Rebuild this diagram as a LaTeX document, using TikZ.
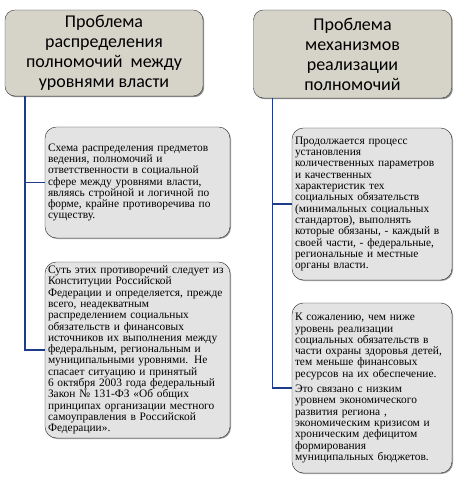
\documentclass[tikz,border=0pt]{standalone}
\usepackage{fontspec}
\setmainfont{Liberation Serif}
\newfontfamily\titulofont{Carlito}
\definecolor{esqNavy}{HTML}{1F3C88}
\definecolor{esqTaupe}{HTML}{D6D4C9}
\definecolor{esqGris}{HTML}{E3E3E3}
\definecolor{esqSombra}{HTML}{5A5A5A}
\usetikzlibrary{
	positioning,
	calc,
	shadows
}
\tikzset{
	titulo/.style={
		draw=black!80,
		rounded corners=3.5mm,
		fill=esqTaupe,
		align=center,
		inner sep=2pt,
		minimum width=198pt,
		minimum height=86pt,
		font=\titulofont\fontsize{18}{20}\selectfont,
		drop shadow={shadow xshift=1.2pt,shadow yshift=-1.2pt,fill=esqSombra,opacity=0.7}
	},
	texto/.style={
		draw=black!85,
		rounded corners=4mm,
		fill=esqGris,
		align=left,
		inner sep=3pt,
		font=\fontsize{11.4}{11.3}\selectfont,
		drop shadow={shadow xshift=1pt,shadow yshift=-1pt,fill=esqSombra,opacity=0.6}
	},
	enlace/.style={
		line width=1.6pt,
		esqNavy
	}
}
\begin{document}
\begin{tikzpicture}[x=1pt,y=-1pt]
	\useasboundingbox (0,0) rectangle (458,481);
	% encabezados
	\node[titulo] (tituloA) at (104,53) {Проблема\\распределения\\полномочий\ \ между\\уровнями власти};
	\node[titulo, minimum height=88pt] (tituloB) at (352.5,54) {Проблема\\механизмов\\реализации\\полномочий};
	% columna izquierda
	\node[texto, minimum width=185pt, minimum height=111pt, text width=179pt] (esquema) at (137.5,182.5)
		{Схема распределения предметов\\ведения, полномочий и\\ответственности в социальной\\сфере между уровнями власти,\\являясь стройной и логичной по\\форме, крайне противоречива по\\существу.};
	\node[texto, minimum width=185pt, minimum height=176pt, text width=179pt] (suti) at (137.5,350)
		{Суть этих противоречий следует из\\Конституции Российской\\Федерации и определяется, прежде\\всего, неадекватным\\распределением социальных\\обязательств и финансовых\\источников их выполнения между\\федеральным, региональным и\\муниципальными уровнями. Не\\спасает ситуацию и принятый\\6 октября 2003 года федеральный\\Закон № 131-ФЗ «Об общих\\принципах организации местного\\самоуправления в Российской\\Федерации».};
	% columna derecha
	\node[texto, minimum width=160pt, minimum height=152pt, text width=154pt] (proceso) at (372,204)
		{Продолжается процесс\\установления\\количественных параметров\\и качественных\\характеристик тех\\социальных обязательств\\(минимальных социальных\\стандартов), выполнять\\которые обязаны, - каждый в\\своей части, - федеральные,\\региональные и местные\\органы власти.};
	\node[texto, minimum width=160pt, minimum height=170pt, text width=154pt] (sozhal) at (372,388)
		{К сожалению, чем ниже\\уровень реализации\\социальных обязательств в\\части охраны здоровья детей,\\тем меньше финансовых\\ресурсов на их обеспечение.\\[4pt]
		Это связано с низким\\уровнем экономического\\развития региона ,\\экономическим кризисом и\\хроническим дефицитом\\формирования\\муниципальных бюджетов.};
	% conectores
	\coordinate (ejeA) at ($(tituloA.south west)+(20pt,0)$);
	\coordinate (ejeB) at ($(tituloB.south west)+(19pt,0)$);
	\draw[enlace] (ejeA) |- (suti.west);
	\draw[enlace] (ejeA |- esquema.west) -- (esquema.west);
	\draw[enlace] (ejeB) |- (sozhal.west);
	\draw[enlace] (ejeB |- proceso.west) -- (proceso.west);
\end{tikzpicture}
\end{document}
